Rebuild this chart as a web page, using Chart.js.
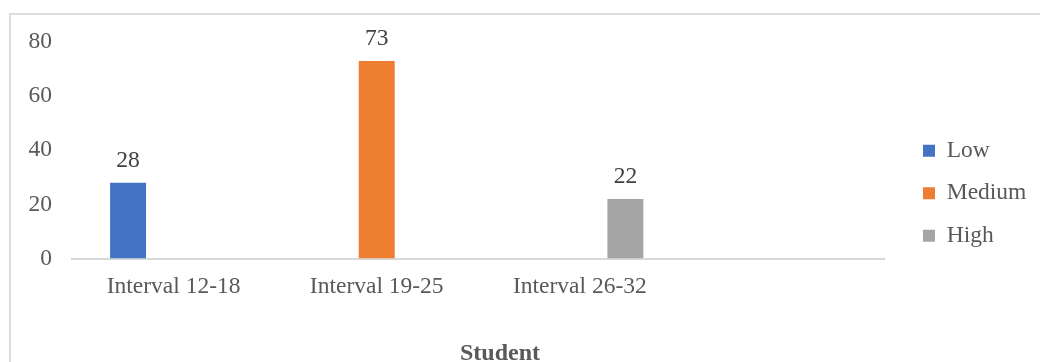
<!DOCTYPE html>
<html>
<head>
<meta charset="utf-8">
<script src="https://cdn.jsdelivr.net/npm/chart.js@4.4.1/dist/chart.umd.min.js"></script>
<style>
  html, body { margin: 0; padding: 0; background: #fff; overflow: hidden; }
  #frame { position: absolute; left: 9px; top: 13px; width: 1100px; height: 400px;
           border-left: 2px solid #dcdcdc; border-top: 2px solid #dcdcdc; }
  #chart { position: absolute; left: 0; top: 0; }
</style>
</head>
<body>
<div id="frame"></div>
<canvas id="chart" width="1040" height="390"></canvas>
<script>
const categories = ['Interval 12-18', 'Interval 19-25', 'Interval 26-32', ''];
const low = [28, null, null, null];
const medium = [null, 73, null, null];
const high = [null, null, 22, null];
const yTicks = [0, 20, 40, 60, 80];

const serif = 'Liberation Serif';

// value labels above the bars
const valueLabels = {
  id: 'valueLabels',
  afterDatasetsDraw(chart) {
    const ctx = chart.ctx;
    ctx.save();
    ctx.font = '23.5px "' + serif + '"';
    ctx.fillStyle = '#404040';
    ctx.textAlign = 'center';
    ctx.textBaseline = 'alphabetic';
    chart.data.datasets.forEach((ds, i) => {
      chart.getDatasetMeta(i).data.forEach((bar, j) => {
        if (ds.data[j] == null) return;
        ctx.fillText(ds.data[j], bar.x, bar.y - 16);
      });
    });
    ctx.restore();
  }
};

// move legend and title a bit, like the excel layout
const nudge = {
  id: 'nudge',
  afterLayout(chart) {
    const lg = chart.legend;
    const dx = 904 - lg.left;
    lg.left += dx;
    lg.right += dx;
    lg.top = 120;
    lg.bottom = 330;
    lg.height = lg.bottom - lg.top;
    const t = chart.titleBlock;
    const tx = 1000 - (t.left + t.right);
    t.left += tx / 2;
    t.right += tx / 2;
  }
};

new Chart(document.getElementById('chart'), {
  type: 'bar',
  data: {
    labels: categories,
    datasets: [
      { label: 'Low', data: low, backgroundColor: '#4472C4' },
      { label: 'Medium', data: medium, backgroundColor: '#ED7D31' },
      { label: 'High', data: high, backgroundColor: '#A5A5A5' }
    ]
  },
  options: {
    responsive: false,
    animation: false,
    devicePixelRatio: 1,
    layout: { padding: { left: 10, top: 42, right: 23, bottom: 21.6 } },
    datasets: {
      bar: { categoryPercentage: 0.672, barPercentage: 0.79 }
    },
    scales: {
      x: {
        grid: { display: false, drawTicks: false },
        border: { display: true, color: '#d9d9d9', width: 2 },
        ticks: { color: '#595959', font: { family: serif, size: 23.5 }, padding: 14, maxRotation: 0 },
        afterFit: (s) => { s.height = 81; }
      },
      y: {
        min: 0,
        max: 80,
        grid: { display: false, drawTicks: false },
        border: { display: false },
        ticks: { color: '#595959', font: { family: serif, size: 23.5 }, padding: 20 },
        afterBuildTicks: (s) => { s.ticks = yTicks.map(v => ({ value: v })); },
        afterFit: (s) => { s.width = 62; }
      }
    },
    plugins: {
      legend: {
        position: 'right',
        align: 'start',
        fullSize: false,
        labels: {
          boxWidth: 12,
          boxHeight: 12,
          padding: 19,
          color: '#595959',
          font: { family: serif, size: 23.5 }
        }
      },
      title: {
        display: true,
        position: 'bottom',
        text: 'Student',
        color: '#595959',
        padding: 0,
        font: { family: serif, size: 24, weight: 'bold' }
      },
      tooltip: { enabled: false }
    }
  },
  plugins: [valueLabels, nudge]
});
</script>
</body>
</html>
